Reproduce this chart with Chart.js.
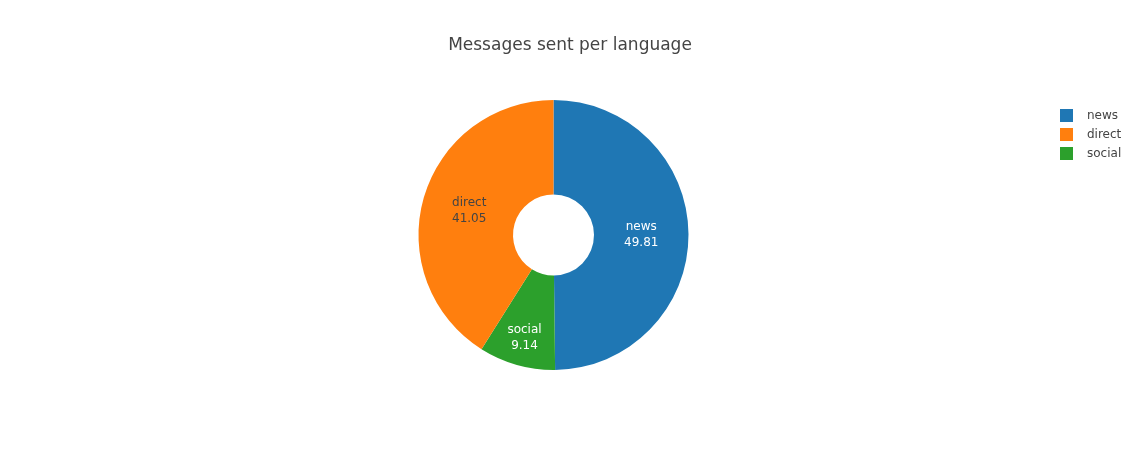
<!DOCTYPE html>
<html>
<head>
<meta charset="utf-8">
<script src="https://cdn.jsdelivr.net/npm/chart.js@4"></script>
<style>
  html, body { margin: 0; padding: 0; background: #fff; }
  #wrap { width: 1140px; height: 450px; position: relative; }
</style>
</head>
<body>
<div id="wrap"><canvas id="c" width="1140" height="450"></canvas></div>
<script>
// ---- data (slice drawing order, clockwise from 12 o'clock) ----
const categories = ['news', 'social', 'direct'];
const values = [49.81, 9.14, 41.05];
const colors = ['#1f77b4', '#2ca02c', '#ff7f0e'];
const legendOrder = ['news', 'direct', 'social'];
const titleText = 'Messages sent per language';

const FONT = '"DejaVu Sans", verdana, arial, sans-serif';

function isDark(hex) {
  const r = parseInt(hex.slice(1, 3), 16), g = parseInt(hex.slice(3, 5), 16), b = parseInt(hex.slice(5, 7), 16);
  return (0.299 * r + 0.587 * g + 0.114 * b) < 150;
}

// shift the plotting area so the pie sits left of the page centre (room for legend)
const shiftPlugin = {
  id: 'shiftArea',
  afterLayout(chart) {
    chart.chartArea.right -= 33;
    chart.chartArea.width = chart.chartArea.right - chart.chartArea.left;
  }
};

// text inside slices: label + value
const sliceLabels = {
  id: 'sliceLabels',
  afterDatasetsDraw(chart) {
    const ctx = chart.ctx;
    const meta = chart.getDatasetMeta(0);
    ctx.save();
    ctx.font = '12px ' + FONT;
    ctx.textAlign = 'center';
    ctx.textBaseline = 'middle';
    meta.data.forEach((arc, i) => {
      const p = arc.getProps(['x', 'y', 'startAngle', 'endAngle', 'innerRadius', 'outerRadius'], true);
      const mid = (p.startAngle + p.endAngle) / 2;
      const span = p.endAngle - p.startAngle;
      const frac = span < 0.4 * Math.PI ? 0.7 : 0.5;
      const r = p.innerRadius + (p.outerRadius - p.innerRadius) * frac;
      const x = p.x + Math.cos(mid) * r;
      const y = p.y + Math.sin(mid) * r;
      ctx.fillStyle = isDark(colors[i]) ? '#ffffff' : '#444444';
      ctx.fillText(categories[i], x, y - 7.5);
      ctx.fillText(values[i].toFixed(2), x, y + 8);
    });
    ctx.restore();
  }
};

// legend in the top right corner
const legendPlugin = {
  id: 'sideLegend',
  afterDraw(chart) {
    const ctx = chart.ctx;
    ctx.save();
    ctx.font = '12px ' + FONT;
    ctx.textAlign = 'left';
    ctx.textBaseline = 'middle';
    legendOrder.forEach((name, k) => {
      const i = categories.indexOf(name);
      const top = 109 + k * 19;
      ctx.fillStyle = colors[i];
      ctx.fillRect(1060, top, 13, 13);
      ctx.fillStyle = '#444444';
      ctx.fillText(name, 1087, top + 6.5);
    });
    ctx.restore();
  }
};

new Chart(document.getElementById('c'), {
  type: 'doughnut',
  data: {
    labels: categories,
    datasets: [{
      data: values,
      backgroundColor: colors,
      borderWidth: 0,
      hoverOffset: 0
    }]
  },
  options: {
    responsive: false,
    animation: false,
    cutout: '30%',
    rotation: 0,
    layout: { padding: { top: 0, bottom: 80, left: 0, right: 0 } },
    plugins: {
      title: {
        display: true,
        text: titleText,
        color: '#444444',
        font: { family: FONT, size: 17, weight: 'normal' },
        padding: { top: 35, bottom: 44.6 }
      },
      legend: { display: false },
      tooltip: { enabled: false }
    }
  },
  plugins: [shiftPlugin, sliceLabels, legendPlugin]
});
</script>
</body>
</html>
